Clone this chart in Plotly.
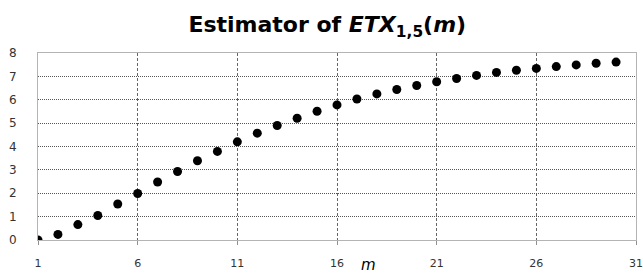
import plotly.graph_objects as go

m_values = list(range(1, 31))
etx_values = [0.00, 0.24, 0.66, 1.05, 1.54, 1.99, 2.48, 2.93, 3.39, 3.79,
              4.20, 4.57, 4.90, 5.21, 5.51, 5.78, 6.03, 6.25, 6.44, 6.61,
              6.77, 6.91, 7.04, 7.17, 7.26, 7.34, 7.42, 7.49, 7.56, 7.61]
x_ticks = [1, 6, 11, 16, 21, 26, 31]
y_ticks = [0, 1, 2, 3, 4, 5, 6, 7, 8]

fig = go.Figure()
fig.add_trace(go.Scatter(
    x=m_values, y=etx_values, mode="markers",
    marker=dict(color="black", size=9, line=dict(width=0)),
    showlegend=False,
))

fig.update_layout(
    width=643, height=273,
    margin=dict(l=38, r=7, t=53, b=33),
    paper_bgcolor="white", plot_bgcolor="white",
    title=dict(
        text="<b>Estimator of <i>ETX</i><sub>1,5</sub>(<i>m</i>)</b>",
        x=0.509, xanchor="center", y=0.91, yanchor="middle",
        font=dict(family="DejaVu Sans, sans-serif", size=22, color="black"),
    ),
    xaxis=dict(
        range=[1, 31], tickvals=x_ticks, ticktext=[str(v) for v in x_ticks],
        showgrid=True, gridcolor="#666666", griddash="3px,2px", gridwidth=1,
        showline=True, linecolor="#b4b4b4", linewidth=1, mirror=True,
        ticks="outside", ticklen=4, tickcolor="#909090",
        ticklabelstandoff=9, automargin=False,
        tickfont=dict(family="DejaVu Sans", size=11, color="#333333"),
        zeroline=False,
    ),
    yaxis=dict(
        range=[0, 8], tickvals=y_ticks,
        showgrid=True, gridcolor="#555555", griddash="1px,1px", gridwidth=1,
        showline=True, linecolor="#b4b4b4", linewidth=1, mirror=True,
        ticks="", ticklabelstandoff=18, automargin=False,
        tickfont=dict(family="DejaVu Sans", size=12, color="#333333"),
        zeroline=False,
    ),
)

fig.add_annotation(
    text="<i>m</i>", xref="x", yref="paper", x=17.6, y=0,
    xanchor="center", yanchor="middle", yshift=-25, showarrow=False,
    font=dict(family="DejaVu Sans, sans-serif", size=15, color="black"),
)

fig.write_html("out.html", config={"displayModeBar": False},
               post_script="document.body.style.margin='0';")
